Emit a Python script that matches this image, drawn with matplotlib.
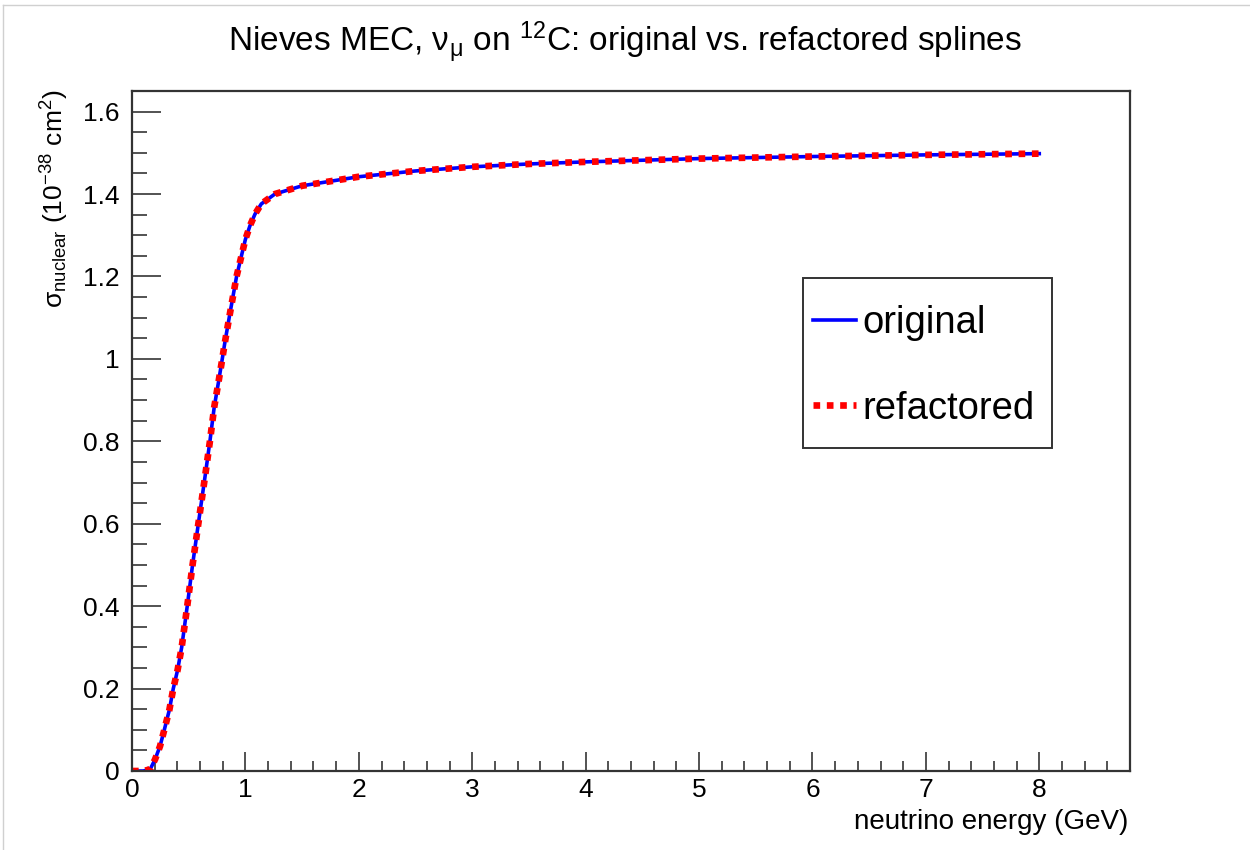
import matplotlib
matplotlib.use("Agg")
import matplotlib.pyplot as plt
from matplotlib.lines import Line2D
from matplotlib.patches import Rectangle
from matplotlib.ticker import MultipleLocator, FuncFormatter

# ---- data ----
energy_gev = [0, 0.1, 0.16, 0.203, 0.247, 0.285, 0.33, 0.364, 0.402, 0.438,
              0.487, 0.534, 0.585, 0.652, 0.687, 0.725, 0.764, 0.796, 0.819,
              0.857, 0.881, 0.922, 0.972, 1.0, 1.04, 1.084, 1.14, 1.26, 1.5,
              2.0, 2.5, 3.0, 3.5, 4.0, 5.0, 6.0, 7.0, 8.0]
sigma_original = [0, 0, 0.004, 0.028, 0.06, 0.1, 0.149, 0.2, 0.245, 0.3,
                  0.4, 0.5, 0.6, 0.73, 0.8, 0.883, 0.946, 1.0, 1.04,
                  1.1, 1.137, 1.2, 1.258, 1.29, 1.323, 1.351, 1.376, 1.4, 1.42,
                  1.442, 1.456, 1.466, 1.473, 1.478, 1.486, 1.491, 1.495, 1.498]
sigma_refactored = [0, 0, 0.004, 0.028, 0.06, 0.1, 0.149, 0.2, 0.245, 0.3,
                    0.4, 0.5, 0.6, 0.73, 0.8, 0.883, 0.946, 1.0, 1.04,
                    1.1, 1.137, 1.2, 1.258, 1.29, 1.323, 1.351, 1.376, 1.4, 1.42,
                    1.442, 1.456, 1.466, 1.473, 1.478, 1.486, 1.491, 1.495, 1.498]
series_labels = ["original", "refactored"]
title_text = r"Nieves MEC, ν$_{\mathregular{μ}}$ on $^{\mathregular{12}}$C: original vs. refactored splines"
xlabel_text = "neutrino energy (GeV)"
ylabel_text = r"σ$_{\mathregular{nuclear}}$ (10$^{\mathregular{-38}}$ cm$^{\mathregular{2}}$)"

plt.rcParams['font.family'] = ['Liberation Sans', 'DejaVu Sans']
plt.rcParams['mathtext.fontset'] = 'custom'
plt.rcParams['mathtext.rm'] = 'Liberation Sans'
plt.rcParams['mathtext.it'] = 'Liberation Sans'
plt.rcParams['mathtext.default'] = 'regular'

W, H = 1250, 850
AX_L, AX_R, AX_T, AX_B = 132, 1130, 91, 771
fig = plt.figure(figsize=(12.5, 8.5), dpi=100)
ax = fig.add_axes([AX_L/W, 1 - AX_B/H, (AX_R-AX_L)/W, (AX_B-AX_T)/H])

def ax_frac(px, py):
    return (px - AX_L) / (AX_R - AX_L), (AX_B - py) / (AX_B - AX_T)

ax.plot(energy_gev, sigma_original, color='#0000ff', lw=2.6, label=series_labels[0],
        solid_joinstyle='round')
ax.plot(energy_gev, sigma_refactored, color='#ff0000', lw=4.8,
        linestyle=(0, (1.0, 1.0)), dash_capstyle='butt', label=series_labels[1])

ax.set_xlim(0, 8.8)
ax.set_ylim(0, 1.65)

ax.xaxis.set_major_locator(MultipleLocator(1))
ax.xaxis.set_minor_locator(MultipleLocator(0.2))
ax.yaxis.set_major_locator(MultipleLocator(0.2))
ax.yaxis.set_minor_locator(MultipleLocator(0.05))
fmt = FuncFormatter(lambda v, p: f"{v:g}" if abs(v) > 1e-9 else "0")
ax.yaxis.set_major_formatter(fmt)
ax.xaxis.set_major_formatter(fmt)

ax.tick_params(axis='both', which='both', direction='in', color='#444444', width=1.3,
               top=False, right=False)
ax.tick_params(axis='y', which='major', length=21, labelsize=19, pad=9)
ax.tick_params(axis='y', which='minor', length=10.5)
ax.tick_params(axis='x', which='major', length=14, labelsize=19, pad=5)
ax.tick_params(axis='x', which='minor', length=7)
for s in ax.spines.values():
    s.set_linewidth(1.6)
    s.set_color('#333333')

fig.text(0.5, 1 - 42/H, title_text, ha='center', va='center', fontsize=24)
fig.text(1128/W, 1 - 822/H, xlabel_text, ha='right', va='center', fontsize=20)
fig.text(55/W, 1 - 90/H, ylabel_text, ha='center', va='top', rotation=90, fontsize=19)

# legend box
x0, y0 = ax_frac(803, 448)
x1, y1 = ax_frac(1052, 278)
ax.add_patch(Rectangle((x0, y0), x1 - x0, y1 - y0, transform=ax.transAxes,
                       facecolor='white', edgecolor='#333333', lw=1.4, zorder=4))
lx, ly = ax_frac(813, 305)
leg = ax.legend(loc='upper left', bbox_to_anchor=(lx, ly),
                fontsize=27.5, frameon=False,
                borderpad=0, labelspacing=1.3, handlelength=1.12,
                handletextpad=0.18, borderaxespad=0)
leg.set_zorder(5)

# faint screenshot border (top and left)
fig.add_artist(Line2D([3/W, 1], [1 - 5/H, 1 - 5/H], transform=fig.transFigure,
                      color='#d0d0d0', lw=1))
fig.add_artist(Line2D([3/W, 3/W], [0, 1 - 5/H], transform=fig.transFigure,
                      color='#d0d0d0', lw=1))

fig.savefig("out.png", dpi=100)
